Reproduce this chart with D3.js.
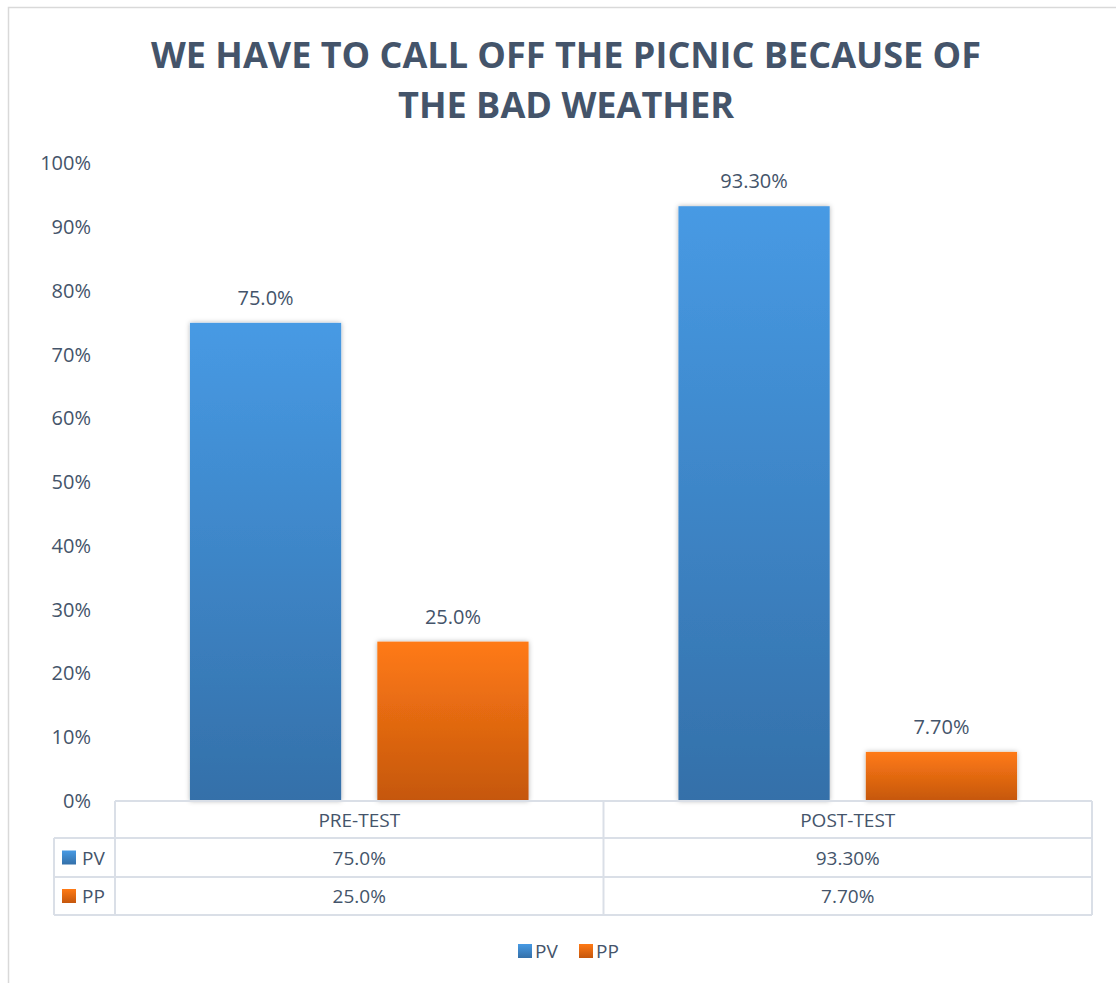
<!DOCTYPE html>
<html>
<head>
<meta charset="utf-8">
<script src="https://cdn.jsdelivr.net/npm/d3@7"></script>
<style>
  html, body { margin: 0; padding: 0; background: #fff; }
  svg { display: block; }
  text { font-family: "Open Sans", "Noto Sans", sans-serif; fill: #44546A; }
</style>
</head>
<body>
<svg id="chart" width="1116" height="983"></svg>
<script>
// Chart data
const categories = ["PRE-TEST", "POST-TEST"];
const seriesNames = ["PV", "PP"];
const pvValues = [75.0, 93.3];
const ppValues = [25.0, 7.7];
const pvLabels = ["75.0%", "93.30%"];
const ppLabels = ["25.0%", "7.70%"];
const yTicks = [0, 10, 20, 30, 40, 50, 60, 70, 80, 90, 100];
const titleLines = ["WE HAVE TO CALL OFF THE PICNIC BECAUSE OF", "THE BAD WEATHER"];

const series = [
  { name: seriesNames[0], values: pvValues, labels: pvLabels, top: "#479AE4", bottom: "#3470A9" },
  { name: seriesNames[1], values: ppValues, labels: ppLabels, top: "#FF7A15", bottom: "#C5570D" }
];

const svg = d3.select("#chart");
const W = 1116, H = 983;

// Layout
const plot = { left: 115, right: 1092, top: 163.5, bottom: 801 };
const table = { rowH: [37, 39, 38], labelLeft: 54 };

// Frame
svg.append("rect")
  .attr("x", 8.5).attr("y", 7.5)
  .attr("width", W + 20).attr("height", H + 20)
  .attr("fill", "#fff").attr("stroke", "#D9D9D9").attr("stroke-width", 1.5);

// Gradients and shadow
const defs = svg.append("defs");
series.forEach((s, i) => {
  const g = defs.append("linearGradient")
    .attr("id", "grad" + i).attr("x1", 0).attr("y1", 0).attr("x2", 0).attr("y2", 1);
  g.append("stop").attr("offset", "0%").attr("stop-color", s.top);
  g.append("stop").attr("offset", "100%").attr("stop-color", s.bottom);
});
const f = defs.append("filter").attr("id", "shadow")
  .attr("x", "-20%").attr("y", "-20%").attr("width", "140%").attr("height", "140%");
f.append("feDropShadow").attr("dx", 0).attr("dy", 0)
  .attr("stdDeviation", 2.5).attr("flood-color", "#000").attr("flood-opacity", 0.3);

// Title
titleLines.forEach((line, i) => {
  svg.append("text")
    .attr("x", 566).attr("y", 68 + i * 50)
    .attr("text-anchor", "middle")
    .attr("font-size", 36).attr("font-weight", 700)
    .attr("textLength", i === 0 ? 830 : 336)
    .attr("lengthAdjust", "spacingAndGlyphs")
    .text(line);
});

// Scales
const y = d3.scaleLinear().domain([0, 100]).range([plot.bottom, plot.top]);
const x0 = d3.scaleBand().domain(categories).range([plot.left, plot.right]).paddingInner(0).paddingOuter(0);
const x1 = d3.scaleBand().domain(seriesNames).range([0, x0.bandwidth()])
  .paddingInner(0.193).paddingOuter(0.4);

// Y axis labels
const yAxis = d3.axisLeft(y).tickValues(yTicks).tickFormat(d => d + "%").tickSize(0).tickPadding(0);
const yG = svg.append("g").attr("transform", `translate(91,0)`).call(yAxis);
yG.select(".domain").remove();
yG.selectAll("text")
  .attr("font-size", 20).attr("fill", "#44546A")
  .style("font-family", '"Open Sans", sans-serif');

// Bars
const groups = svg.selectAll("g.cat").data(categories).join("g")
  .attr("class", "cat")
  .attr("transform", d => `translate(${x0(d)},0)`);

series.forEach((s, si) => {
  groups.append("rect")
    .attr("x", x1(s.name))
    .attr("y", (d, ci) => y(s.values[ci]))
    .attr("width", x1.bandwidth())
    .attr("height", (d, ci) => y(0) - y(s.values[ci]))
    .attr("fill", `url(#grad${si})`)
    .attr("filter", "url(#shadow)");
  groups.append("text")
    .attr("x", x1(s.name) + x1.bandwidth() / 2)
    .attr("y", (d, ci) => y(s.values[ci]) - 18)
    .attr("text-anchor", "middle")
    .attr("font-size", 20)
    .text((d, ci) => s.labels[ci]);
});

// Data table
const lineColor = "#DADFE7";
const rowY = [plot.bottom];
table.rowH.forEach((h, i) => rowY.push(rowY[i] + h));
const tg = svg.append("g").attr("stroke", lineColor).attr("stroke-width", 2).attr("fill", "none");
// header row top
tg.append("line").attr("x1", plot.left).attr("x2", plot.right).attr("y1", rowY[0]).attr("y2", rowY[0]);
// rows
for (let r = 1; r <= 3; r++) {
  tg.append("line").attr("x1", table.labelLeft).attr("x2", plot.right).attr("y1", rowY[r]).attr("y2", rowY[r]);
}
// verticals
tg.append("line").attr("x1", table.labelLeft).attr("x2", table.labelLeft).attr("y1", rowY[1]).attr("y2", rowY[3]);
[plot.left, x0(categories[1]), plot.right].forEach(xv => {
  tg.append("line").attr("x1", xv).attr("x2", xv).attr("y1", rowY[0]).attr("y2", rowY[3]);
});

// Header text
categories.forEach(c => {
  svg.append("text")
    .attr("x", x0(c) + x0.bandwidth() / 2)
    .attr("y", (rowY[0] + rowY[1]) / 2 + 7)
    .attr("text-anchor", "middle").attr("font-size", 19)
    .text(c);
});
// Row text
series.forEach((s, si) => {
  const cy = (rowY[si + 1] + rowY[si + 2]) / 2;
  svg.append("rect")
    .attr("x", 62).attr("y", cy - 7).attr("width", 14).attr("height", 14)
    .attr("fill", `url(#grad${si})`);
  svg.append("text")
    .attr("x", 82).attr("y", cy + 7).attr("font-size", 19).text(s.name);
  categories.forEach((c, ci) => {
    svg.append("text")
      .attr("x", x0(c) + x0.bandwidth() / 2)
      .attr("y", cy + 7)
      .attr("text-anchor", "middle").attr("font-size", 19)
      .text(s.labels[ci]);
  });
});

// Legend
const legendX = [518, 579];
series.forEach((s, si) => {
  svg.append("rect")
    .attr("x", legendX[si]).attr("y", 944).attr("width", 14).attr("height", 14)
    .attr("fill", `url(#grad${si})`);
  svg.append("text")
    .attr("x", legendX[si] + 17).attr("y", 958).attr("font-size", 19).text(s.name);
});
</script>
</body>
</html>
